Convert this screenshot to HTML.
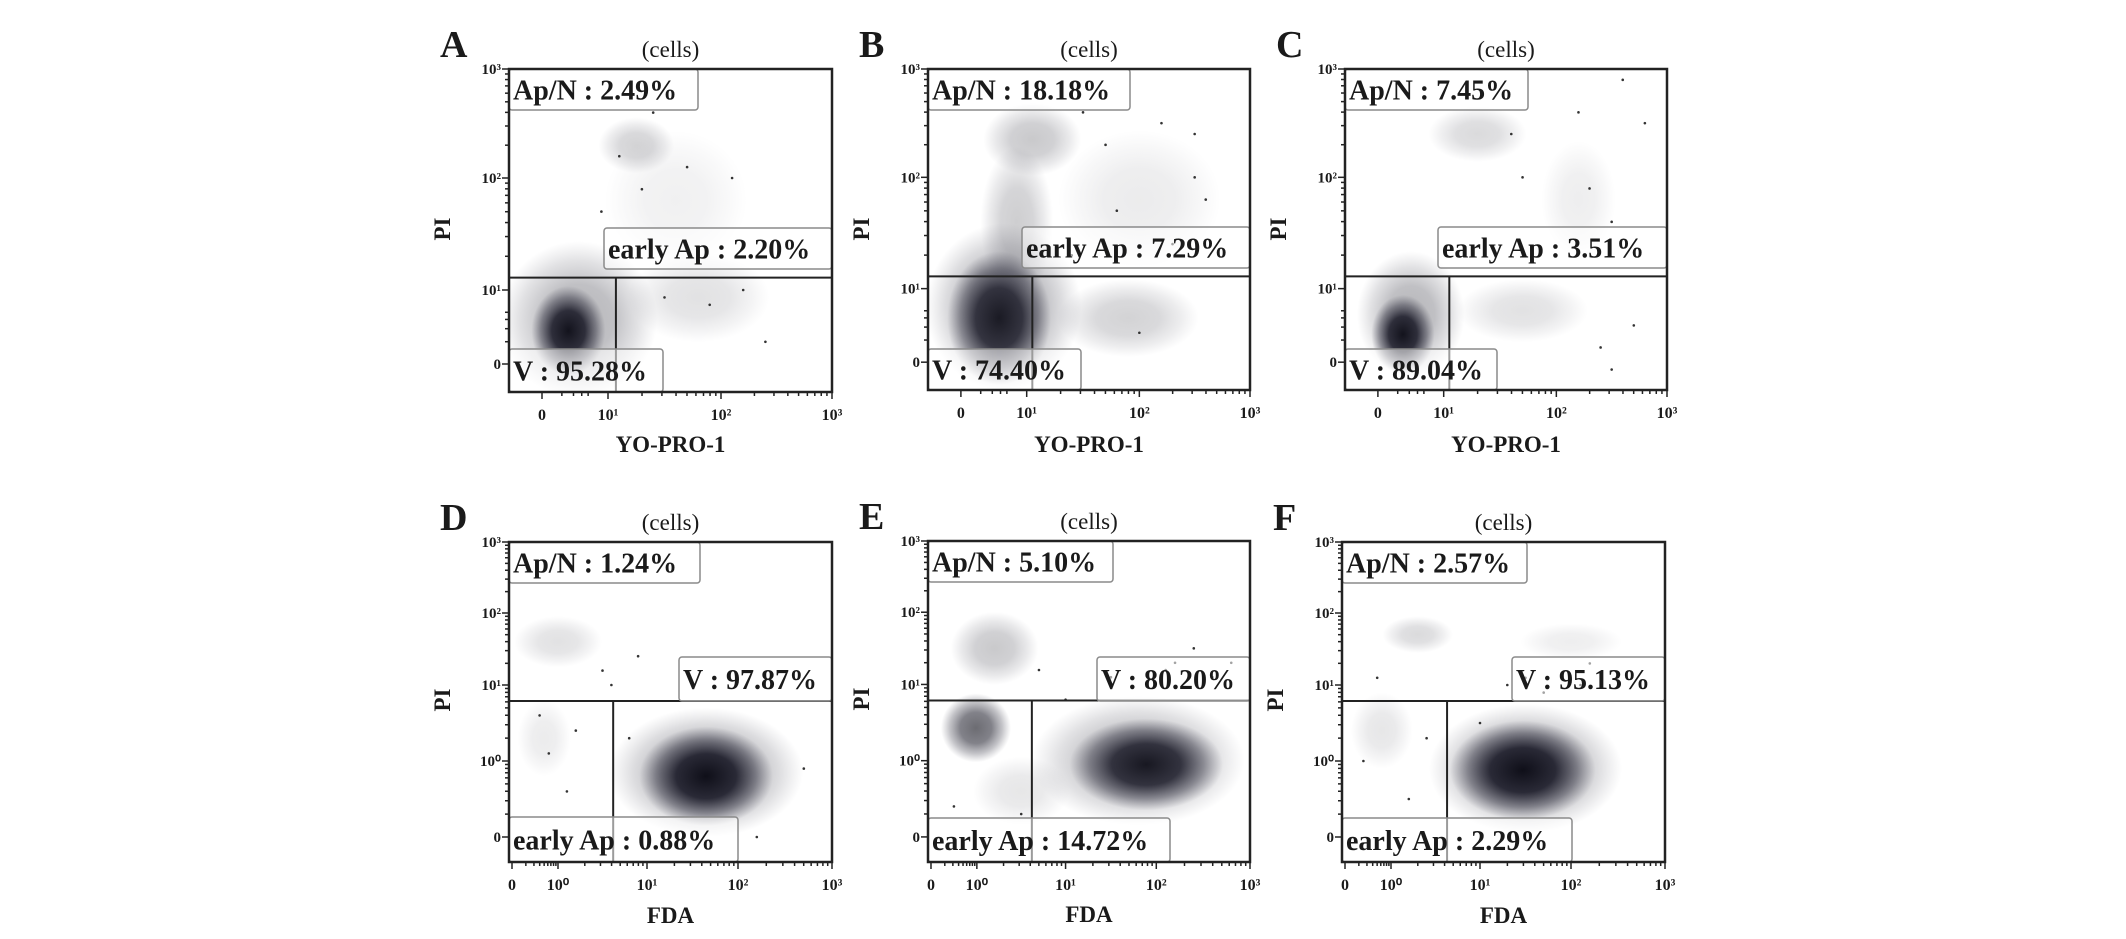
<!DOCTYPE html>
<html><head><meta charset="utf-8">
<style>
html,body{margin:0;padding:0;background:#fff;}
svg{display:block;}
text{font-family:"Liberation Serif",serif;fill:#1a1a1a;}
</style></head>
<body>
<svg id="fig" width="2126" height="939" viewBox="0 0 2126 939" xmlns="http://www.w3.org/2000/svg">
<defs>
<radialGradient id="cloud" cx="50%" cy="50%" r="50%">
<stop offset="0" stop-color="#0a0a14" stop-opacity="1"/>
<stop offset="0.45" stop-color="#121220" stop-opacity="0.88"/>
<stop offset="0.75" stop-color="#252535" stop-opacity="0.45"/>
<stop offset="1" stop-color="#404050" stop-opacity="0"/>
</radialGradient>
</defs>
</svg>
<script>
// ---- data (units: tick index on each axis; top row 0,10^1,10^2,10^3 ; bottom row 0,10^0,10^1,10^2,10^3)
const panelLetters = ["A","B","C","D","E","F"];
const xTitles = ["YO-PRO-1","YO-PRO-1","YO-PRO-1","FDA","FDA","FDA"];
const topTickLabels = ["0","10¹","10²","10³"];
const bottomTickLabels = ["0","10⁰","10¹","10²","10³"];
const apnValues = ["Ap/N : 2.49%","Ap/N : 18.18%","Ap/N : 7.45%","Ap/N : 1.24%","Ap/N : 5.10%","Ap/N : 2.57%"];
const earlyValues = ["early Ap : 2.20%","early Ap : 7.29%","early Ap : 3.51%","early Ap : 0.88%","early Ap : 14.72%","early Ap : 2.29%"];
const viableValues = ["V : 95.28%","V : 74.40%","V : 89.04%","V : 97.87%","V : 80.20%","V : 95.13%"];
const gateX = [1.07,1.05,1.05,1.62,1.62,1.63];
const gateY = [1.11,1.11,1.11,1.79,1.79,1.79];
// clusters: [cx, cy, sdx, sdy, density]
const clustersA = [[0.55,0.6,0.85,0.8,0.3],[0.4,0.45,0.5,0.55,0.95],[1.25,2.3,0.3,0.22,0.18],[1.8,0.9,0.6,0.4,0.12],[1.6,1.8,0.6,0.6,0.06]];
const clustersB = [[0.65,0.75,0.8,0.8,0.35],[0.58,0.6,0.6,0.7,0.9],[0.85,1.6,0.35,0.65,0.2],[1.05,2.35,0.4,0.3,0.22],[1.9,0.6,0.6,0.45,0.18],[2.0,1.8,0.7,0.6,0.08]];
const clustersC = [[0.5,0.65,0.65,0.65,0.3],[0.38,0.38,0.42,0.48,0.95],[1.3,2.4,0.4,0.22,0.15],[1.7,0.7,0.55,0.35,0.12],[2.2,1.8,0.3,0.5,0.07]];
const clustersD = [[2.65,0.85,1.0,0.8,0.35],[2.65,0.8,0.68,0.6,0.97],[1.0,2.6,0.45,0.3,0.12],[0.7,1.3,0.4,0.45,0.08]];
const clustersE = [[2.8,1.0,1.1,0.8,0.3],[2.89,0.95,0.78,0.55,0.92],[0.98,1.43,0.36,0.4,0.6],[1.2,2.5,0.45,0.45,0.22],[1.5,0.6,0.5,0.4,0.1]];
const clustersF = [[2.5,0.9,1.0,0.8,0.35],[2.47,0.88,0.75,0.6,0.97],[1.3,2.7,0.35,0.2,0.15],[3.0,2.6,0.5,0.2,0.07],[0.8,1.4,0.4,0.45,0.1]];
const sparseA = [[1.5,0.9],[1.9,0.8],[2.2,1.0],[1.3,1.9],[1.1,2.2],[2.4,0.3],[1.7,2.1],[2.1,2.0],[1.4,2.6],[0.9,1.7]];
const sparseB = [[1.5,2.6],[2.2,2.5],[2.5,2.0],[1.8,1.7],[2.3,1.4],[2.0,0.4],[2.5,2.4],[1.4,1.3],[2.6,1.8],[1.7,2.3]];
const sparseC = [[2.6,2.9],[2.2,2.6],[2.8,2.5],[2.3,1.9],[2.5,1.6],[1.7,2.0],[2.7,0.5],[2.4,0.2],[1.6,2.4],[2.5,-0.1]];
const sparseD = [[1.6,2.0],[1.2,1.4],[1.8,1.3],[0.6,1.6],[1.1,0.6],[3.7,0.9],[1.9,2.4],[1.5,2.2],[0.8,1.1],[3.2,0.0]];
const sparseE = [[3.4,2.5],[3.1,2.2],[3.8,2.3],[2.5,2.1],[3.6,2.1],[2.0,1.8],[1.7,2.2],[3.2,2.3],[0.5,0.4],[1.5,0.3]];
const sparseF = [[2.3,2.0],[2.5,2.1],[3.1,2.0],[2.7,1.9],[2.0,1.5],[0.7,2.1],[1.4,1.3],[3.2,2.3],[0.4,1.0],[1.2,0.5]];
const clusterSets = [clustersA,clustersB,clustersC,clustersD,clustersE,clustersF];
const sparseSets = [sparseA,sparseB,sparseC,sparseD,sparseE,sparseF];

// ---- layout
const NS="http://www.w3.org/2000/svg";
const svg=document.getElementById('fig');
function mk(tag,attrs,parent){const e=document.createElementNS(NS,tag);for(const k in attrs)e.setAttribute(k,attrs[k]);(parent||svg).appendChild(e);return e;}
const panels=[
 {x:509,y:69,w:323,h:323,row:0,apn:189,early:[95,159,228,41],v:[0,280,154,43]},
 {x:928,y:69,w:322,h:321,row:0,apn:202,early:[94,158,228,41],v:[0,280,153,41]},
 {x:1345,y:69,w:322,h:321,row:0,apn:183,early:[93,158,229,41],v:[0,280,152,41]},
 {x:509,y:542,w:323,h:320,row:1,apn:191,early:[0,275,229,45],v:[170,115,153,44]},
 {x:928,y:541,w:322,h:321,row:1,apn:185,early:[0,277,242,44],v:[169,116,153,44]},
 {x:1342,y:542,w:323,h:320,row:1,apn:185,early:[0,276,230,44],v:[170,115,153,44]}
];
const xTickPosTop=[33,99,212,323], yTickPosTop=[295,221,109,0];
const xTickPosBot=[3,49,138,229,323], yTickPosBot=[295,219,143,71,0];
function interp(u,pos){
  const n=pos.length-1;
  let i=Math.floor(u); if(i<0)i=0; if(i>n-1)i=n-1;
  return pos[i]+(u-i)*(pos[i+1]-pos[i]);
}

panels.forEach((p,idx)=>{
  const g=mk('g',{transform:`translate(${p.x},${p.y})`});
  
  
  const xp=p.row?xTickPosBot:xTickPosTop, yp=p.row?yTickPosBot:yTickPosTop;
  const sx=u=>interp(u,xp)*p.w/323, sy=u=>interp(u,yp)*p.h/(p.row?320:323);
  const clip=mk('clipPath',{id:'clip'+idx},g);
  mk('rect',{x:0,y:0,width:p.w,height:p.h},clip);
  const dots=mk('g',{'clip-path':`url(#clip${idx})`},g);
  
  
  clusterSets[idx].forEach(c=>{
    const cx=sx(c[0]),cy=sy(c[1]);
    const rx=Math.abs(sx(c[0]+c[2])-cx)+4, ry=Math.abs(sy(c[1]+c[3])-cy)+4;
    const e=mk('ellipse',{cx:cx,cy:cy,rx:rx,ry:ry,fill:'url(#cloud)',opacity:c[4]},dots);
    
    
  });
  sparseSets[idx].forEach(s=>{
    const d=mk('circle',{cx:sx(s[0]),cy:sy(s[1]),r:1.3,fill:'#333'},dots);
    
    
  });
  const gx=sx(gateX[idx]), gy=sy(gateY[idx]);
  const hl=mk('line',{x1:0,x2:p.w,y1:gy,y2:gy,stroke:'#222','stroke-width':2},g);
  
  
  const vl=mk('line',{x1:gx,x2:gx,y1:gy,y2:p.h,stroke:'#222','stroke-width':2},g);
  
  
  function box(x,y,w,h,txt,name){
    const r=mk('rect',{x:x,y:y,width:w,height:h,rx:3,fill:'#fff','fill-opacity':0.55,stroke:'#8a8a8a','stroke-width':1.5},g);
    
    
    const t=mk('text',{x:x+4,y:y+h/2+10,'font-size':28,'font-weight':'bold'},g);
    t.textContent=txt;
    
    
  }
  box(0,0,p.apn,41,apnValues[idx],'apn');
  box(p.early[0],p.early[1],p.early[2],p.early[3],earlyValues[idx],'early-ap');
  box(p.v[0],p.v[1],p.v[2],p.v[3],viableValues[idx],'viable');
  const fr=mk('rect',{x:0,y:0,width:p.w,height:p.h,fill:'none',stroke:'#222','stroke-width':2.5},g);
  
  
  const tk=mk('g',{stroke:'#222','stroke-width':1.5},g);
  
  
  const xLabels=p.row?bottomTickLabels:topTickLabels;
  const yLabels=xLabels;
  for(let i=0;i<xLabels.length;i++){
    mk('line',{x1:sx(i),x2:sx(i),y1:p.h,y2:p.h+7},tk);
    mk('line',{x1:-7,x2:0,y1:sy(i),y2:sy(i)},tk);
  }
  for(let i=0;i<xLabels.length-1;i++){
    for(let k=2;k<10;k++){
      const u=i+Math.log10(k);
      if(i===0&&!p.row) { if(k>5) continue; }
      mk('line',{x1:sx(u),x2:sx(u),y1:p.h,y2:p.h+4},tk);
      mk('line',{x1:-4,x2:0,y1:sy(u),y2:sy(u)},tk);
    }
  }
  xLabels.forEach((lb,i)=>{
    const t=mk('text',{x:sx(i),y:p.h+28,'font-size':16,'font-weight':'bold','text-anchor':'middle'},g);
    t.textContent=lb;
    
    
    const t2=mk('text',{x:-8,y:sy(i)+5,'font-size':15,'font-weight':'bold','text-anchor':'end'},g);
    t2.textContent=yLabels[i];
    
    
  });
  const xt=mk('text',{x:p.w/2,y:p.row?381:383,'font-size':23,'font-weight':'bold','text-anchor':'middle'},g);
  xt.textContent=xTitles[idx];
  
  
  const yt=mk('text',{x:0,y:0,'font-size':23,'font-weight':'bold','text-anchor':'middle',transform:`translate(-59,${p.row?158:160}) rotate(-90)`},g);
  yt.textContent='PI';
  
  
  const ct=mk('text',{x:p.w/2,y:-12,'font-size':23,'text-anchor':'middle'},g);
  ct.textContent='(cells)';
  
  
  const pl=mk('text',{x:-69,y:-12,'font-size':38,'font-weight':'bold'},g);
  pl.textContent=panelLetters[idx];
  
  
});
</script>
</body></html>
